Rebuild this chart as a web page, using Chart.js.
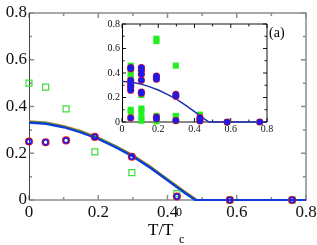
<!DOCTYPE html>
<html>
<head>
<meta charset="utf-8">
<script src="https://cdn.jsdelivr.net/npm/chart.js"></script>
<style>
  html, body { margin: 0; padding: 0; background: #fff; }
  #wrap { position: relative; width: 317px; height: 245px; }
  #inset { position: absolute; left: 98px; top: 14px; z-index: 1; }
  #main { position: absolute; left: 0; top: 0; z-index: 2; }
</style>
</head>
<body>
<div id="wrap">
  <canvas id="inset" width="174" height="122"></canvas>
  <canvas id="main" width="317" height="245"></canvas>
</div>
<script>
// Main panel data
const mainX = [0, 0.048, 0.107, 0.19, 0.297, 0.427, 0.58, 0.76];
const mainCircles = [0.25, 0.247, 0.255, 0.27, 0.185, 0.015, 0, 0];
const mainSquares = [0.5, 0.483, 0.39, 0.206, 0.117, 0.027, 0, 0];

// Theory curves
const blueT = [0, 0.05, 0.1, 0.15, 0.2, 0.25, 0.3, 0.35, 0.4, 0.45, 0.48, 0.8];
const blueCurve = [0.331, 0.326, 0.311, 0.289, 0.261, 0.226, 0.186, 0.138, 0.084, 0.03, 0, 0];
const greenT = [0, 0.05, 0.1, 0.15, 0.2, 0.25, 0.3, 0.35, 0.4, 0.45, 0.483, 0.8];
const greenCurve = [0.334, 0.329, 0.314, 0.292, 0.264, 0.229, 0.189, 0.141, 0.087, 0.033, 0, 0];
const redT = [0, 0.05, 0.1, 0.15, 0.2, 0.25, 0.3, 0.35, 0.4, 0.45, 0.486, 0.8];
const redCurve = [0.337, 0.332, 0.317, 0.295, 0.267, 0.232, 0.192, 0.144, 0.09, 0.036, 0, 0];

// Inset data
const insetSqX = [0.048, 0.048, 0.048, 0.048, 0.048, 0.048, 0.048,
                  0.107, 0.107, 0.107, 0.107, 0.107, 0.107,
                  0.19, 0.19, 0.19, 0.19, 0.19,
                  0.297, 0.297, 0.297, 0.297,
                  0.43, 0.43, 0.58, 0.76];
const insetSqY = [0.46, 0.43, 0.39, 0.36, 0.31, 0.10, 0.08,
                  0.44, 0.22, 0.11, 0.09, 0.04, 0.01,
                  0.68, 0.66, 0.05, 0.02, 0.005,
                  0.46, 0.05, 0.03, 0.01,
                  0.06, 0.04, 0, 0];
const insetCirX = [0.048, 0.048, 0.048, 0.048, 0.048, 0.048, 0.048, 0.048,
                   0.107, 0.107, 0.107, 0.107, 0.107, 0.107,
                   0.19, 0.19, 0.19, 0.19, 0.19,
                   0.297, 0.297, 0.297,
                   0.43, 0.43, 0.43, 0.58, 0.76];
const insetCirY = [0.445, 0.435, 0.34, 0.32, 0.30, 0.285, 0.26, 0.033,
                   0.445, 0.42, 0.39, 0.34, 0.245, 0.235,
                   0.375, 0.365, 0.35, 0.04, 0.025,
                   0.225, 0.21, 0.012,
                   0.035, 0.02, 0.008, 0, 0];

const tickVals = [0, 0.2, 0.4, 0.6, 0.8];
const tickLabels = ['0', '0.2', '0.4', '0.6', '0.8'];

// where the inset canvas sits on the page
const INSET_LEFT = 98, INSET_TOP = 14;

function pts(xs, ys) {
  return xs.map((x, i) => ({ x: x, y: ys[i] }));
}

// frame + inward ticks, drawn under the data
function framePlugin(name, o) {
  return {
    id: name,
    beforeDatasetsDraw(chart) {
      const a = chart.chartArea, ctx = chart.ctx;
      const xs = chart.scales.x, ys = chart.scales.y;
      ctx.save();
      if (o.fill) {
        ctx.fillStyle = '#fff';
        ctx.fillRect(a.left, a.top, a.right - a.left, a.bottom - a.top);
      }
      ctx.strokeStyle = o.color;
      ctx.lineWidth = o.lw;
      for (let k = 0; k <= 8; k++) {
        const v = k / 10;
        const len = k % 2 === 0 ? o.major : o.minor;
        const px = xs.getPixelForValue(v), py = ys.getPixelForValue(v);
        ctx.beginPath();
        ctx.moveTo(px, a.bottom); ctx.lineTo(px, a.bottom - len);
        ctx.moveTo(px, a.top); ctx.lineTo(px, a.top + len);
        ctx.moveTo(a.left, py); ctx.lineTo(a.left + len, py);
        ctx.moveTo(a.right, py); ctx.lineTo(a.right - len, py);
        ctx.stroke();
      }
      ctx.beginPath();
      ctx.moveTo(a.left, a.bottom); ctx.lineTo(a.right, a.bottom);
      ctx.lineTo(a.right, a.top); ctx.lineTo(a.left, a.top);
      ctx.stroke();
      ctx.strokeStyle = o.leftColor;
      ctx.lineWidth = 1;
      ctx.beginPath();
      ctx.moveTo(a.left + 0.5, a.top); ctx.lineTo(a.left + 0.5, a.bottom);
      ctx.stroke();
      ctx.restore();
    }
  };
}

function axisOpts(fitKey, fitVal) {
  return {
    type: 'linear', min: 0, max: 0.8,
    afterFit(scale) { scale[fitKey] = fitVal; },
    grid: { display: false, drawTicks: false },
    border: { display: false },
    ticks: { display: false }
  };
}

function drawTickLabels(ctx, xs, ys, a, dx, dy, size, yGap, xBase) {
  ctx.fillStyle = '#111';
  ctx.font = size + 'px "Liberation Serif"';
  tickVals.forEach((v, i) => {
    ctx.textAlign = 'right';
    ctx.textBaseline = 'middle';
    ctx.fillText(tickLabels[i], dx + a.left - yGap, dy + ys.getPixelForValue(v));
    ctx.textAlign = 'center';
    ctx.textBaseline = 'alphabetic';
    ctx.fillText(tickLabels[i], dx + xs.getPixelForValue(v), dy + a.bottom + xBase);
  });
}

const insetChart = new Chart(document.getElementById('inset'), {
  type: 'scatter',
  data: {
    datasets: [
      { data: pts(insetCirX, insetCirY), pointStyle: 'circle', pointRadius: 3.0, borderWidth: 0, backgroundColor: '#1a1aee', clip: false },
      { data: pts(insetCirX, insetCirY), pointStyle: 'circle', pointRadius: 3.6, borderWidth: 0, backgroundColor: '#ee1111', clip: false },
      { data: pts(blueT, blueCurve), showLine: true, borderColor: '#1c2fb0', borderWidth: 1.5, pointRadius: 0, tension: 0, clip: false },
      { data: pts(insetSqX, insetSqY), pointStyle: 'rect', pointRadius: 4.3, borderWidth: 0, backgroundColor: '#22ee22', clip: false }
    ]
  },
  options: {
    responsive: false,
    animation: false,
    events: [],
    layout: { padding: { top: 10, right: 5, left: 0, bottom: 0 } },
    plugins: { legend: { display: false }, tooltip: { enabled: false } },
    scales: {
      x: axisOpts('height', 14),
      y: axisOpts('width', 24)
    }
  },
  plugins: [framePlugin('insetFrame', { fill: true, color: '#111', leftColor: '#000', lw: 1, major: 4, minor: 2.5 })]
});

const mainLabels = {
  id: 'mainLabels',
  afterDraw(chart) {
    const ctx = chart.ctx;
    ctx.save();
    drawTickLabels(ctx, chart.scales.x, chart.scales.y, chart.chartArea, 0, 0, 17, 2, 17);
    drawTickLabels(ctx, insetChart.scales.x, insetChart.scales.y, insetChart.chartArea,
                   INSET_LEFT, INSET_TOP, 10, 2, 10);
    ctx.fillStyle = '#000';
    ctx.textAlign = 'left';
    ctx.textBaseline = 'alphabetic';
    ctx.font = '17px "Liberation Serif"';
    ctx.fillText('T/T', 148, 235);
    ctx.font = '12px "Liberation Serif"';
    ctx.fillText('0', 176, 216);
    ctx.fillText('c', 179, 243);
    ctx.font = '14px "Liberation Serif"';
    ctx.textBaseline = 'middle';
    ctx.fillText('(a)', 269, 33);
    ctx.restore();
  }
};

new Chart(document.getElementById('main'), {
  type: 'scatter',
  data: {
    datasets: [
      { data: pts(mainX, mainCircles), pointStyle: 'circle', pointRadius: 2.4, borderColor: '#1515ee', backgroundColor: 'rgba(0,0,0,0)', borderWidth: 1.5, clip: false },
      { data: pts(mainX, mainCircles), pointStyle: 'circle', pointRadius: 3.4, borderColor: '#ee1111', backgroundColor: 'rgba(0,0,0,0)', borderWidth: 1.3, clip: false },
      { data: pts(mainX, mainSquares), pointStyle: 'rect', pointRadius: 4.2, borderColor: '#3ddd3d', backgroundColor: 'rgba(0,0,0,0)', borderWidth: 1.2, clip: false },
      { data: pts(blueT, blueCurve), showLine: true, borderColor: '#0a3cdc', borderWidth: 2.2, pointRadius: 0, tension: 0, clip: false },
      { data: pts(greenT, greenCurve), showLine: true, borderColor: '#33a033', borderWidth: 2, pointRadius: 0, tension: 0, clip: false },
      { data: pts(redT, redCurve), showLine: true, borderColor: '#d2691e', borderWidth: 2, pointRadius: 0, tension: 0, clip: false }
    ]
  },
  options: {
    responsive: false,
    animation: false,
    events: [],
    layout: { padding: { top: 13, right: 11, left: 0, bottom: 0 } },
    plugins: { legend: { display: false }, tooltip: { enabled: false } },
    scales: {
      x: axisOpts('height', 45),
      y: axisOpts('width', 29)
    }
  },
  plugins: [framePlugin('mainFrame', { fill: false, color: '#8c8c8c', leftColor: '#444', lw: 1.5, major: 5, minor: 3 }), mainLabels]
});
</script>
</body>
</html>
